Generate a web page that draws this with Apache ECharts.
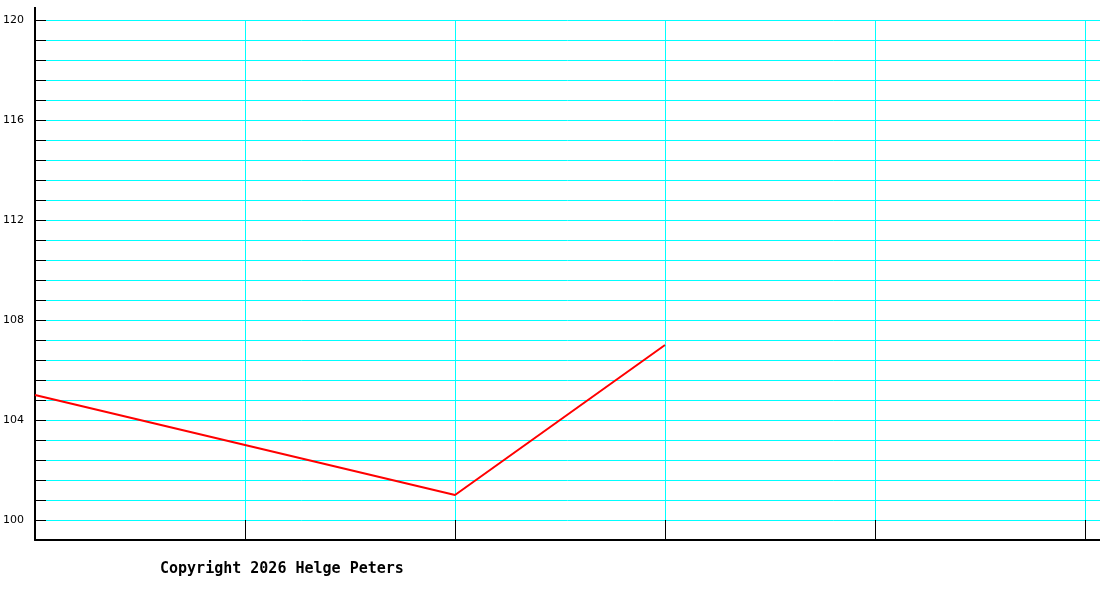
<!DOCTYPE html>
<html>
<head>
<meta charset="utf-8">
<script src="https://cdn.jsdelivr.net/npm/echarts@6/dist/echarts.min.js"></script>
<style>
html,body{margin:0;padding:0;background:#fff;}
#chart{width:1100px;height:600px;}
</style>
</head>
<body>
<div id="chart"></div>
<script>
// Data
var xPositions = [0, 1, 2, 3];
var seriesValues = [105, 103, 101, 107];
var xTickValues = [1, 2, 3, 4, 5];
var yLabelValues = [100, 104, 108, 112, 116, 120];
var yMin = 99.2, yMax = 120, yStep = 0.8;
var xMin = 0, xMax = 5.0714;
var copyrightText = 'Copyright 2026 Helge Peters';

var points = xPositions.map(function (x, i) { return [x, seriesValues[i]]; });

var chart = echarts.init(document.getElementById('chart'), null, {renderer: 'canvas'});
chart.setOption({
  animation: false,
  backgroundColor: '#ffffff',
  title: {
    text: copyrightText,
    left: 160,
    top: 562,
    padding: 0,
    textStyle: {fontFamily: 'DejaVu Sans Mono', fontSize: 15, fontWeight: 'bold', color: '#000'}
  },
  grid: {left: 35, right: 0, top: 20, bottom: 60, containLabel: false},
  xAxis: {
    type: 'value',
    min: xMin,
    max: xMax,
    interval: 1,
    axisLine: {show: true, onZero: false, lineStyle: {color: '#000', width: 2}},
    axisTick: {show: true, inside: true, length: 20, customValues: xTickValues, lineStyle: {color: '#000', width: 1}},
    axisLabel: {show: false},
    splitLine: {show: true, showMinLine: true, showMaxLine: true, lineStyle: {color: '#00ffff', width: 1}}
  },
  yAxis: {
    type: 'value',
    min: yMin,
    max: yMax,
    interval: yStep,
    axisLine: {show: true, onZero: false, symbol: ['none', 'rect'], symbolSize: [2, 26], lineStyle: {color: '#000', width: 2}},
    axisTick: {show: true, inside: true, length: 11, lineStyle: {color: '#000', width: 1}},
    axisLabel: {
      show: true, margin: 11, color: '#000', fontFamily: 'DejaVu Sans', fontSize: 11,
      formatter: function (v) {
        for (var i = 0; i < yLabelValues.length; i++) {
          if (Math.abs(v - yLabelValues[i]) < 1e-6) return String(yLabelValues[i]);
        }
        return '';
      }
    },
    splitLine: {show: true, showMinLine: false, lineStyle: {color: '#00ffff', width: 1}}
  },
  series: [{
    type: 'line',
    data: points,
    showSymbol: false,
    symbol: 'none',
    lineStyle: {color: '#ff0000', width: 2},
    z: 5
  }]
});
</script>
</body>
</html>
